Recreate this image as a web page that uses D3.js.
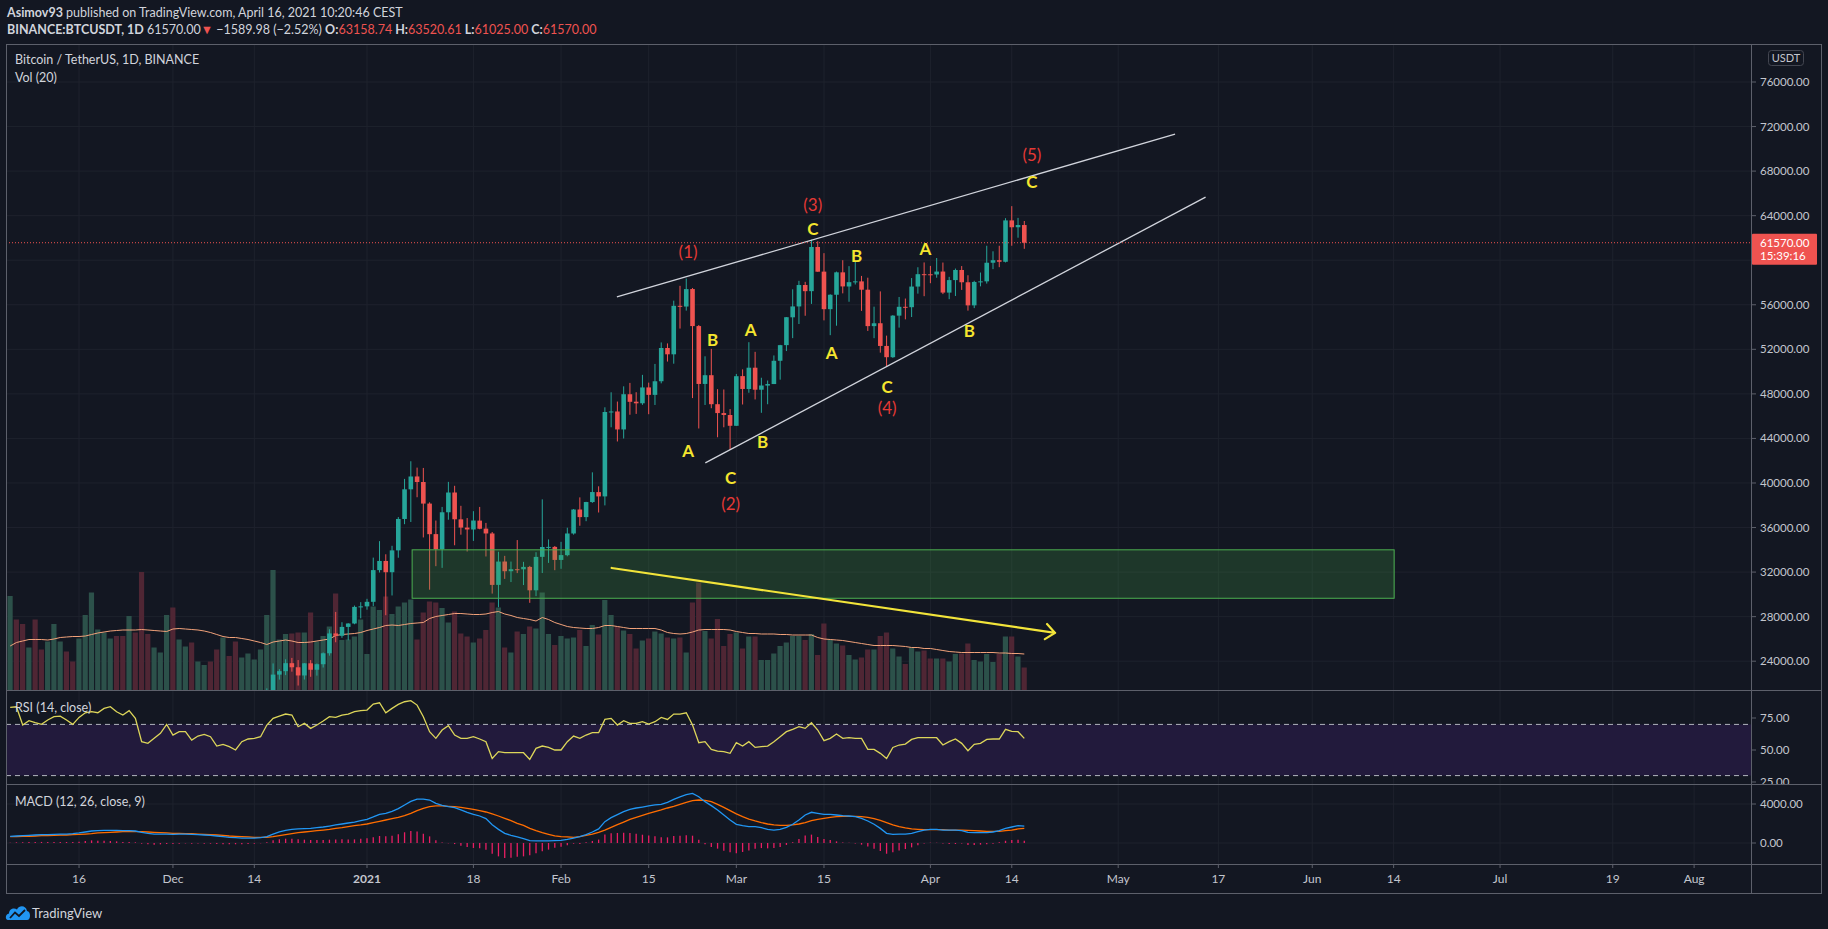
<!DOCTYPE html>
<html>
<head>
<meta charset="utf-8">
<script src="https://cdn.jsdelivr.net/npm/d3@7"></script>
<style>
  body { margin: 0; background: #131722; overflow: hidden; }
  text { font-family: Lato, "Noto Sans", sans-serif; }
</style>
</head>
<body>
<script>
// ---- data (daily BINANCE:BTCUSDT, 2020-11-05 .. 2021-04-16) ----
const START = "2020-11-05";

const opens = [
  14130,15590,15580,14818,15475,15328,15297,15684,16291,16320,16070,15958,16730,17655,17771,17803,18655,18704,18415,18370,19160,18720,17150,17140,17720,18185,
  19695,18765,19205,19422,18650,19148,19359,19166,18324,18541,18254,18036,18808,19175,19273,19426,21335,22797,23107,23822,23455,22719,23810,23232,23729,24712,26493,26281,27079,27385,28876,
  28923,29331,32176,33000,31989,33950,36769,39432,40586,40088,38150,35410,34049,37371,39145,36737,35995,35824,36622,35901,35468,30852,32950,32078,32259,32251,32464,30366,33368,34246,34262,
  33092,33518,35467,37619,36937,38289,39181,38795,46374,46420,44807,47968,47298,47156,48580,47911,49134,52119,51552,55906,55841,57412,54087,48892,49677,47074,46277,46104,
  45134,49595,48436,50349,48374,48746,48883,50972,52376,54874,55851,57774,57222,61188,58976,55605,56900,58912,57641,58030,58100,57352,54083,54342,52303,51293,55025,55817,55782,57635,58746,
  58739,58720,58982,57092,58215,59123,58020,55947,58048,58103,59773,60000,59860,63576,62960,63158.74
];
const highs = [
  15750,15965,15765,15650,15840,15460,15965,16340,16480,16326,16144,16880,17860,18476,18180,18815,18965,18750,18770,19418,19484,18915,17457,17853,18344,19863,
  19889,19342,19566,19527,19177,19420,19420,19294,18639,18557,18292,18948,19411,19349,19570,21560,23800,23285,24171,24295,24102,23837,24100,23794,24789,26867,28422,27500,27410,28996,29300,
  29600,33300,34778,33600,34360,36939,40365,41950,41380,41350,38264,36628,37850,40100,39747,37950,36852,37469,37850,36415,35600,33826,33456,32944,34875,32921,32557,33783,38531,34933,34342,
  34717,35984,37662,38708,38310,40955,39700,46794,48142,47310,48678,48985,48150,49707,49010,50689,52619,52530,56368,57700,58352,57508,54183,51374,52041,48424,48393,46638,
  49790,50200,52640,51774,49448,49200,51450,52402,54900,57387,58150,58058,61844,61700,60633,56938,58981,60000,59468,59880,58589,58430,55830,57200,53230,55073,56700,56559,58400,59368,59800,
  59490,60200,59791,58506,59250,59474,58650,58153,58894,61300,60800,61300,63774,64854,63800,63520.61
];
const lows = [
  13525,15190,14344,14703,14805,15072,15280,15440,15952,15710,15865,15870,16531,17215,17350,17740,18308,17610,18000,18018,18500,16188,16438,16865,17517,18185,
  18001,18330,18925,18565,18500,18857,18902,18200,17650,17911,17572,18020,18711,19000,19050,19278,21230,22350,22750,23060,21815,22353,22600,22703,23434,24500,25700,26101,25880,27320,27850,
  28624,28946,31963,28130,29900,33288,36300,36500,38720,35111,30420,32531,32380,36701,34408,35357,33850,34800,35844,33400,30071,28850,31390,31106,31910,30837,29241,29842,31915,32825,32171,
  32296,33418,35362,36161,36570,38215,37351,37988,45000,43727,43994,46125,46202,47014,46174,47003,48947,50901,50710,53863,55477,47622,44892,47003,46712,44106,45000,43000,
  45115,47047,48100,47500,46300,47070,48882,49274,51845,53005,54273,55013,56078,58966,54600,53271,54120,57023,56270,57820,55450,53650,53000,51700,50427,51229,53950,54691,54901,57000,56770,
  57935,58428,56956,56500,56789,57333,55473,55700,57654,57900,59200,59375,59800,61301,62020,61025
];
const closes = [
  15590,15580,14818,15475,15328,15297,15684,16291,16320,16070,15958,16730,17655,17771,17803,18655,18704,18415,18370,19160,18720,17150,17140,17720,18185,19695,
  18765,19205,19422,18650,19148,19359,19166,18324,18541,18254,18036,18808,19175,19273,19426,21335,22797,23107,23822,23455,22719,23810,23232,23729,24712,26493,26281,27079,27385,28876,28923,
  29331,32178,33000,31988,33950,36769,39432,40582,40088,38150,35404,34051,37371,39144,36742,35994,35828,36631,35891,35468,30850,32945,32078,32259,32254,32467,30366,33364,34252,34262,33092,
  33526,35466,37618,36936,38290,39186,38795,46374,46420,44807,47969,47287,47153,48577,47911,49133,52119,51552,55906,55841,57408,54087,48891,49676,47073,46276,46106,45135,
  49587,48440,50349,48374,48751,48882,50971,52375,54884,55851,57773,57221,61188,58968,55605,56900,58913,57648,58030,58102,57351,54083,54340,52303,51293,55025,55817,55777,57635,58746,58740,
  58720,58981,57094,58215,59123,58020,55947,58048,58102,59774,60001,59861,63576,62959,63159.98,61570
];
// volume, thousands of BTC
const volumes = [
  188,141,132,85,141,81,97,132,97,77,57,103,150,195,121,115,103,108,108,148,115,236,112,85,75,150,
  165,101,87,95,57,50,57,81,105,68,97,65,73,61,81,150,240,101,112,113,115,115,155,97,108,127,193,100,101,107,141,
  72,167,160,187,152,167,175,181,101,155,177,175,164,135,157,113,107,95,103,120,175,165,85,75,117,112,127,123,195,112,90,
  108,103,105,120,88,130,111,180,150,127,119,112,83,99,103,117,113,105,103,105,75,175,215,118,103,142,88,112,
  115,83,107,107,60,60,73,88,95,108,108,100,112,70,133,100,93,89,70,61,65,81,81,108,115,83,67,52,85,77,79,
  63,63,63,57,72,73,93,60,57,72,56,72,107,107,67,45
];
const volumeMA = [
  88,95,98,101,101,101,100,102,105,106,107,107,108,111,114,116,118,119,120,120,120,121,120,119,118,117,
  122,123,122,121,120,118,115,111,107,105,105,103,101,98,95,91,96,98,100,98,95,95,96,98,100,102,109,111,112,113,115,
  119,122,125,129,130,129,131,133,134,135,143,147,149,151,153,153,152,151,151,152,155,157,152,149,145,143,141,138,145,141,135,
  131,127,125,124,123,123,125,129,129,127,125,123,123,123,123,123,120,115,113,112,113,116,120,121,121,121,121,120,
  117,115,113,113,112,112,112,111,111,110,110,110,110,105,102,101,100,99,97,95,93,91,89,89,89,89,88,87,85,85,83,
  83,81,79,77,76,75,75,75,75,75,75,74,74,73,73,72
];
const rsiValues = [
  83.3,83.8,69.5,72.9,71.3,70.0,73.4,76.0,76.5,73.4,70.0,75.5,79.1,79.9,79.1,82.5,83.8,79.9,77.3,80.7,74.7,56.5,55.2,59.1,63.0,70.0,
  61.7,64.3,64.3,57.8,60.9,62.2,60.4,53.1,54.4,52.6,50.0,56.5,58.6,59.1,60.4,69.5,74.7,76.5,78.1,77.3,68.2,70.8,66.9,69.5,72.6,76.0,75.5,77.3,78.1,79.9,80.7,
  81.2,85.9,86.9,79.1,82.5,85.6,87.7,88.5,85.1,76.0,64.3,59.1,65.6,69.0,61.7,59.1,59.1,60.4,58.6,56.5,43.4,48.7,47.9,47.9,47.9,47.9,42.7,51.3,53.1,52.0,50.0,
  50.0,56.5,60.9,59.1,61.7,63.5,63.5,73.9,74.7,69.5,72.9,70.8,70.8,72.1,70.3,72.1,75.5,73.9,78.1,78.1,79.1,69.5,55.7,56.5,50.5,49.2,48.7,47.4,
  55.7,53.1,56.5,52.0,52.6,53.1,56.5,60.4,64.3,66.1,68.2,66.9,71.3,65.6,57.3,59.1,62.5,59.1,59.6,59.1,59.1,50.5,50.5,47.4,43.4,52.0,53.9,54.6,58.3,59.6,59.6,
  59.6,59.6,53.9,56.5,58.6,55.2,49.4,54.4,55.2,58.3,58.6,58.6,66.1,64.5,64.3,59.1
];
const macdValues = [
  680,720,750,790,820,860,860,890,920,920,960,1030,1130,1230,1270,1300,1300,1300,1270,1270,1230,1090,990,920,920,920,
  890,920,920,890,860,820,790,720,650,580,550,510,510,510,550,650,920,1130,1300,1400,1440,1470,1500,1570,1640,1740,1850,1950,2050,2150,2290,
  2430,2670,2940,3040,3250,3520,3900,4270,4510,4510,4410,4070,3860,3730,3620,3390,3150,2940,2770,2500,1880,1400,990,790,620,440,240,210,210,210,240,
  270,380,510,650,860,1130,1440,2190,2600,2910,3210,3450,3590,3690,3800,3900,3970,4170,4480,4720,4960,5090,4750,4240,3830,3390,2870,2360,
  1920,1780,1680,1680,1570,1400,1330,1400,1610,1920,2360,2870,3150,3040,2940,2940,2870,2800,2770,2700,2530,2260,1920,1500,990,890,920,920,990,1160,1330,
  1400,1400,1330,1330,1330,1270,1090,1060,1060,1060,1130,1270,1500,1640,1780,1740
];
const signalValues = [
  650,650,680,680,720,750,750,790,820,820,860,890,920,960,1030,1060,1090,1130,1160,1160,1160,1160,1130,1090,1060,1030,
  990,990,960,960,920,890,860,820,790,720,680,650,620,580,580,580,650,750,860,960,1060,1130,1200,1270,1330,1400,1500,1570,1680,1780,1850,
  1950,2090,2220,2360,2500,2630,2800,3040,3320,3560,3730,3800,3800,3760,3730,3660,3560,3450,3320,3180,2980,2770,2530,2290,2020,1810,1500,1270,1060,890,720,
  650,620,580,650,790,920,1090,1330,1610,1880,2150,2430,2630,2840,3040,3210,3390,3590,3760,3970,4170,4340,4410,4380,4240,3970,3660,3320,
  2980,2700,2460,2260,2090,1950,1850,1810,1810,1850,1950,2090,2290,2430,2530,2630,2700,2740,2740,2740,2700,2630,2500,2330,2090,1850,1680,1540,1440,1400,1370,
  1370,1370,1370,1330,1330,1330,1300,1270,1230,1200,1200,1200,1270,1330,1440,1500
];

// axis ticks
const priceTicks = [24000,28000,32000,36000,40000,44000,48000,52000,56000,60000,64000,68000,72000,76000];
const rsiTicks = [25, 50, 75];
const rsiBands = [70, 30];
const macdTicks = [0, 4000];
const timeTicks = [
  ["2020-11-16","16"],["2020-12-01","Dec"],["2020-12-14","14"],["2021-01-01","2021"],["2021-01-18","18"],
  ["2021-02-01","Feb"],["2021-02-15","15"],["2021-03-01","Mar"],["2021-03-15","15"],["2021-04-01","Apr"],
  ["2021-04-14","14"],["2021-05-01","May"],["2021-05-17","17"],["2021-06-01","Jun"],["2021-06-14","14"],
  ["2021-07-01","Jul"],["2021-07-19","19"],["2021-08-01","Aug"]
];

// drawings
const channelUpper = [["2021-02-09T22:00Z", 56700], ["2021-05-10T02:00Z", 71330]];
const channelLower = [["2021-02-24T01:00Z", 41800], ["2021-05-14T23:00Z", 65670]];
const volumeTrend = [["2021-02-09T02:00Z", 32370], ["2021-04-20T22:00Z", 26540]];
const supportZone = [["2021-01-08T05:00Z", 34000], ["2021-06-14T02:00Z", 29650]];
const waveText = ["(1)","B","A","C","(2)","A","B","(3)","C","B","A","A","C","(4)","B","(5)","C"];
const waveTime = ["2021-02-21T07:00Z","2021-02-25T05:00Z","2021-02-21T07:00Z","2021-02-28T02:00Z","2021-02-28T02:00Z",
  "2021-03-03T07:00Z","2021-03-05T05:00Z","2021-03-13T05:00Z","2021-03-13T05:00Z","2021-03-20T05:00Z",
  "2021-03-16T05:00Z","2021-03-31T05:00Z","2021-03-25T02:00Z","2021-03-25T02:00Z","2021-04-07T05:00Z",
  "2021-04-17T05:00Z","2021-04-17T05:00Z"];
const wavePrice = [60740,52840,42920,40490,38200,53820,43680,65040,62890,60380,51670,61010,48660,46820,53730,69530,67110];

// ---- layout ----
const W = 1828, H = 929;
const LEFT = 6, AXIS_X = 1751, RIGHT = 1821;
const TOP = 44, PRICE_B = 690, RSI_B = 784, MACD_B = 864, TIME_B = 893;
const DAY_PX = 6.26;
const BG = "#131722", FRAME = "#5d606b", GRID = "#1e222d", TXT = "#c3c6ce";
const UP = "#26a69a", DOWN = "#ef5350";

const svg = d3.select("body").append("svg")
  .attr("width", W).attr("height", H)
  .style("background", BG);

const x = d3.scaleUtc()
  .domain([new Date("2021-01-01"), new Date("2021-04-01")])
  .range([367, 367 + 90 * DAY_PX]);
const y = d3.scaleLinear().domain([24000, 76000]).range([661.2, 82]);
const yVol = d3.scaleLinear().domain([0, 100]).range([PRICE_B, PRICE_B - 50]);
const yRsi = d3.scaleLinear().domain([25, 75]).range([782, 718]);
const yMacd = d3.scaleLinear().domain([0, 4000]).range([843, 804]);

const dates = closes.map((_, i) => d3.utcDay.offset(new Date(START), i));
const bars = dates.map((d, i) => ({
  date: d, o: opens[i], h: highs[i], l: lows[i], c: closes[i],
  v: volumes[i], vma: volumeMA[i], rsi: rsiValues[i], macd: macdValues[i], sig: signalValues[i]
}));

const defs = svg.append("defs");
const clip = (id, y0, y1) => defs.append("clipPath").attr("id", id)
  .append("rect").attr("x", LEFT).attr("y", y0).attr("width", AXIS_X - LEFT).attr("height", y1 - y0);
clip("pricePane", TOP, PRICE_B);
clip("rsiPane", PRICE_B, RSI_B);
clip("macdPane", RSI_B, MACD_B);

// ---- grid ----
const grid = svg.append("g").attr("stroke", GRID).attr("stroke-width", 1);
grid.selectAll(".vg").data(timeTicks).join("line")
  .attr("x1", d => x(new Date(d[0]))).attr("x2", d => x(new Date(d[0])))
  .attr("y1", TOP).attr("y2", MACD_B);
grid.selectAll(".hg").data(priceTicks).join("line")
  .attr("x1", LEFT).attr("x2", AXIS_X).attr("y1", d => y(d)).attr("y2", d => y(d));
grid.selectAll(".mg").data(macdTicks).join("line")
  .attr("x1", LEFT).attr("x2", AXIS_X).attr("y1", d => yMacd(d)).attr("y2", d => yMacd(d));

// ---- price pane ----
const price = svg.append("g").attr("clip-path", "url(#pricePane)");

price.selectAll(".vol").data(bars).join("rect")
  .attr("x", d => x(d.date) - 2.7).attr("width", 5.2)
  .attr("y", d => yVol(d.v)).attr("height", d => PRICE_B - yVol(d.v))
  .attr("fill", d => d.c >= d.o ? "#2c514a" : "#4f2634");

price.append("path").datum(bars)
  .attr("fill", "none").attr("stroke", "#f2a27a").attr("stroke-width", 1)
  .attr("d", d3.line().x(d => x(d.date)).y(d => yVol(d.vma)));

const candle = price.selectAll(".candle").data(bars).join("g")
  .attr("stroke", d => d.c >= d.o ? UP : DOWN)
  .attr("fill", d => d.c >= d.o ? UP : DOWN);
candle.append("line")
  .attr("x1", d => x(d.date)).attr("x2", d => x(d.date))
  .attr("y1", d => y(d.h)).attr("y2", d => y(d.l)).attr("stroke-width", 1);
candle.append("rect")
  .attr("stroke", "none")
  .attr("x", d => x(d.date) - 2.3).attr("width", 4.6)
  .attr("y", d => y(Math.max(d.o, d.c)))
  .attr("height", d => Math.max(1, Math.abs(y(d.o) - y(d.c))));

// support zone
price.append("rect")
  .attr("x", x(new Date(supportZone[0][0]))).attr("y", y(supportZone[0][1]))
  .attr("width", x(new Date(supportZone[1][0])) - x(new Date(supportZone[0][0])))
  .attr("height", y(supportZone[1][1]) - y(supportZone[0][1]))
  .attr("fill", "rgba(67,160,71,0.24)").attr("stroke", "#4caf50").attr("stroke-width", 1);

// channel lines
[channelUpper, channelLower].forEach(pts => {
  price.append("line")
    .attr("x1", x(new Date(pts[0][0]))).attr("y1", y(pts[0][1]))
    .attr("x2", x(new Date(pts[1][0]))).attr("y2", y(pts[1][1]))
    .attr("stroke", "#d1d4dc").attr("stroke-width", 1.3);
});

// volume trend arrow
const ax1 = x(new Date(volumeTrend[0][0])), ay1 = y(volumeTrend[0][1]);
const ax2 = x(new Date(volumeTrend[1][0])), ay2 = y(volumeTrend[1][1]);
const ang = Math.atan2(ay2 - ay1, ax2 - ax1);
const head = [ang + Math.PI * 0.78, ang - Math.PI * 0.78].map(a => [ax2 + 12 * Math.cos(a), ay2 + 12 * Math.sin(a)]);
price.append("path")
  .attr("d", `M${ax1},${ay1}L${ax2},${ay2}M${head[0]}L${ax2},${ay2}L${head[1]}`)
  .attr("fill", "none").attr("stroke", "#f2e43a").attr("stroke-width", 2.2)
  .attr("stroke-linecap", "round").attr("stroke-linejoin", "round");

// last price line
const last = bars[bars.length - 1];
const prev = bars[bars.length - 2];
price.append("line")
  .attr("x1", LEFT).attr("x2", AXIS_X).attr("y1", y(last.c)).attr("y2", y(last.c))
  .attr("stroke", DOWN).attr("stroke-width", 1).attr("stroke-dasharray", "1,2");

// wave labels
price.selectAll(".wave").data(waveText).join("text")
  .attr("x", (d, i) => x(new Date(waveTime[i])))
  .attr("y", (d, i) => y(wavePrice[i]))
  .attr("text-anchor", "middle").attr("dominant-baseline", "central")
  .attr("font-size", 17)
  .attr("font-weight", d => d.startsWith("(") ? 400 : 700)
  .attr("fill", d => d.startsWith("(") ? "#e53935" : "#f5e52e")
  .text(d => d);

// ---- RSI pane ----
const rsiG = svg.append("g").attr("clip-path", "url(#rsiPane)");
rsiG.append("rect")
  .attr("x", LEFT).attr("width", AXIS_X - LEFT)
  .attr("y", yRsi(rsiBands[0])).attr("height", yRsi(rsiBands[1]) - yRsi(rsiBands[0]))
  .attr("fill", "#221a3c");
rsiG.selectAll(".band").data(rsiBands).join("line")
  .attr("x1", LEFT).attr("x2", AXIS_X).attr("y1", d => yRsi(d)).attr("y2", d => yRsi(d))
  .attr("stroke", "#b2b5be").attr("stroke-dasharray", "5,4").attr("stroke-width", 1);
rsiG.append("path").datum(bars)
  .attr("fill", "none").attr("stroke", "#ddd65a").attr("stroke-width", 1.3)
  .attr("d", d3.line().x(d => x(d.date)).y(d => yRsi(d.rsi)));

// ---- MACD pane ----
const macdG = svg.append("g").attr("clip-path", "url(#macdPane)");
macdG.selectAll(".hist").data(bars).join("line")
  .attr("x1", d => x(d.date)).attr("x2", d => x(d.date))
  .attr("y1", yMacd(0)).attr("y2", d => yMacd(d.macd - d.sig) + (d.macd === d.sig ? 1 : 0))
  .attr("stroke", "#e91e63").attr("stroke-width", 1.3);
macdG.append("path").datum(bars)
  .attr("fill", "none").attr("stroke", "#ff6d00").attr("stroke-width", 1.3)
  .attr("d", d3.line().x(d => x(d.date)).y(d => yMacd(d.sig)));
macdG.append("path").datum(bars)
  .attr("fill", "none").attr("stroke", "#2196f3").attr("stroke-width", 1.3)
  .attr("d", d3.line().x(d => x(d.date)).y(d => yMacd(d.macd)));

// ---- frame ----
const frame = svg.append("g").attr("stroke", FRAME).attr("stroke-width", 1).attr("fill", "none");
frame.append("rect").attr("x", LEFT + 0.5).attr("y", TOP + 0.5)
  .attr("width", RIGHT - LEFT).attr("height", TIME_B - TOP);
frame.append("line").attr("x1", AXIS_X + 0.5).attr("x2", AXIS_X + 0.5).attr("y1", TOP).attr("y2", TIME_B);
[PRICE_B, RSI_B, MACD_B].forEach(v => frame.append("line")
  .attr("x1", LEFT).attr("x2", RIGHT).attr("y1", v + 0.5).attr("y2", v + 0.5));

// ---- right axis ----
const axisLabel = (g, scale, values, fmt, y0, y1) => {
  const t = g.selectAll(null).data(values.filter(v => scale(v) > y0 && scale(v) < y1)).join("g")
    .attr("transform", d => `translate(${AXIS_X},${scale(d)})`);
  t.append("line").attr("x1", 0).attr("x2", 5).attr("stroke", FRAME);
  t.append("text").attr("x", 9).attr("dy", "0.35em").attr("fill", TXT)
    .attr("font-size", 11.5).text(fmt);
};
const axisG = svg.append("g");
defs.append("clipPath").attr("id", "rsiAxis").append("rect")
  .attr("x", AXIS_X).attr("y", PRICE_B).attr("width", RIGHT - AXIS_X).attr("height", RSI_B - PRICE_B);
axisLabel(axisG.append("g"), y, priceTicks.filter(v => v !== 60000), d => d3.format(".2f")(d), TOP, PRICE_B);
axisLabel(axisG.append("g").attr("clip-path", "url(#rsiAxis)"), yRsi, rsiTicks, d => d3.format(".2f")(d), PRICE_B, RSI_B + 6);
axisLabel(axisG.append("g"), yMacd, macdTicks, d => d3.format(".2f")(d), RSI_B, MACD_B);

// currency tag
axisG.append("rect").attr("x", 1768.5).attr("y", 50.5).attr("width", 35).attr("height", 15).attr("rx", 3)
  .attr("fill", "none").attr("stroke", "#434651");
axisG.append("text").attr("x", 1786).attr("y", 58).attr("dy", "0.35em").attr("text-anchor", "middle")
  .attr("fill", TXT).attr("font-size", 11).text("USDT");

// last price tag
axisG.append("rect").attr("x", AXIS_X + 1).attr("y", y(last.c) - 9).attr("width", 65).attr("height", 31)
  .attr("rx", 1).attr("fill", DOWN);
axisG.append("text").attr("x", AXIS_X + 9).attr("y", y(last.c)).attr("dy", "0.35em")
  .attr("fill", "#fff").attr("font-size", 11.5).text(d3.format(".2f")(last.c));
axisG.append("text").attr("x", AXIS_X + 9).attr("y", y(last.c) + 13).attr("dy", "0.35em")
  .attr("fill", "#fff").attr("font-size", 11.5).text("15:39:16");

// ---- time axis ----
const tG = svg.append("g").selectAll("g").data(timeTicks).join("g")
  .attr("transform", d => `translate(${x(new Date(d[0]))},${MACD_B})`);
tG.append("line").attr("y1", 0).attr("y2", 4).attr("stroke", FRAME);
tG.append("text").attr("y", 15).attr("dy", "0.35em").attr("text-anchor", "middle")
  .attr("fill", TXT).attr("font-size", 12)
  .attr("font-weight", d => d[1] === "2021" ? 700 : 400)
  .text(d => d[1]);

// ---- pane titles ----
const titles = [["Bitcoin / TetherUS, 1D, BINANCE", 60], ["Vol (20)", 78], ["RSI (14, close)", 708], ["MACD (12, 26, close, 9)", 802]];
svg.selectAll(".pt").data(titles).join("text")
  .attr("x", 15).attr("y", d => d[1]).attr("dy", "0.35em")
  .attr("fill", "#d1d4dc").attr("font-size", 12.5).text(d => d[0]);

// ---- header ----
const h1 = svg.append("text").attr("x", 7).attr("y", 17).attr("fill", "#d1d4dc").attr("font-size", 12.5);
h1.append("tspan").attr("font-weight", 700).text("Asimov93");
h1.append("tspan").text(" published on TradingView.com, April 16, 2021 10:20:46 CEST");

const chg = last.c - prev.c;
const h2 = svg.append("text").attr("x", 7).attr("y", 34).attr("fill", "#d1d4dc").attr("font-size", 12.5);
h2.append("tspan").attr("font-weight", 700).text("BINANCE:BTCUSDT, 1D");
h2.append("tspan").text("  " + d3.format(".2f")(last.c));
h2.append("tspan").attr("fill", DOWN).text("\u25BC");
h2.append("tspan").text(" \u2212" + d3.format(".2f")(-chg) + " (\u2212" + d3.format(".2f")(-chg / prev.c * 100) + "%) ");
[["O:", last.o], ["H:", last.h], ["L:", last.l], ["C:", last.c]].forEach(([k, v]) => {
  h2.append("tspan").attr("font-weight", 700).text(" " + k);
  h2.append("tspan").attr("fill", DOWN).text(d3.format(".2f")(v));
});

// ---- TradingView logo ----
const logo = svg.append("g").attr("transform", "translate(6,904)");
logo.append("path")
  .attr("d", "M2,16 C-1,16 -1,10 3,9.5 C3,5 8,3 11,5.5 C13,1 20,1 21,7 C25,7.5 25,16 21,16 Z")
  .attr("fill", "#2196f3");
logo.append("path").attr("d", "M4,14 L9,8.5 L13,12 L19,6")
  .attr("fill", "none").attr("stroke", "#131722").attr("stroke-width", 1.8);
svg.append("text").attr("x", 32).attr("y", 913).attr("dy", "0.35em")
  .attr("fill", "#d1d4dc").attr("font-size", 13).text("TradingView");
</script>
</body>
</html>
